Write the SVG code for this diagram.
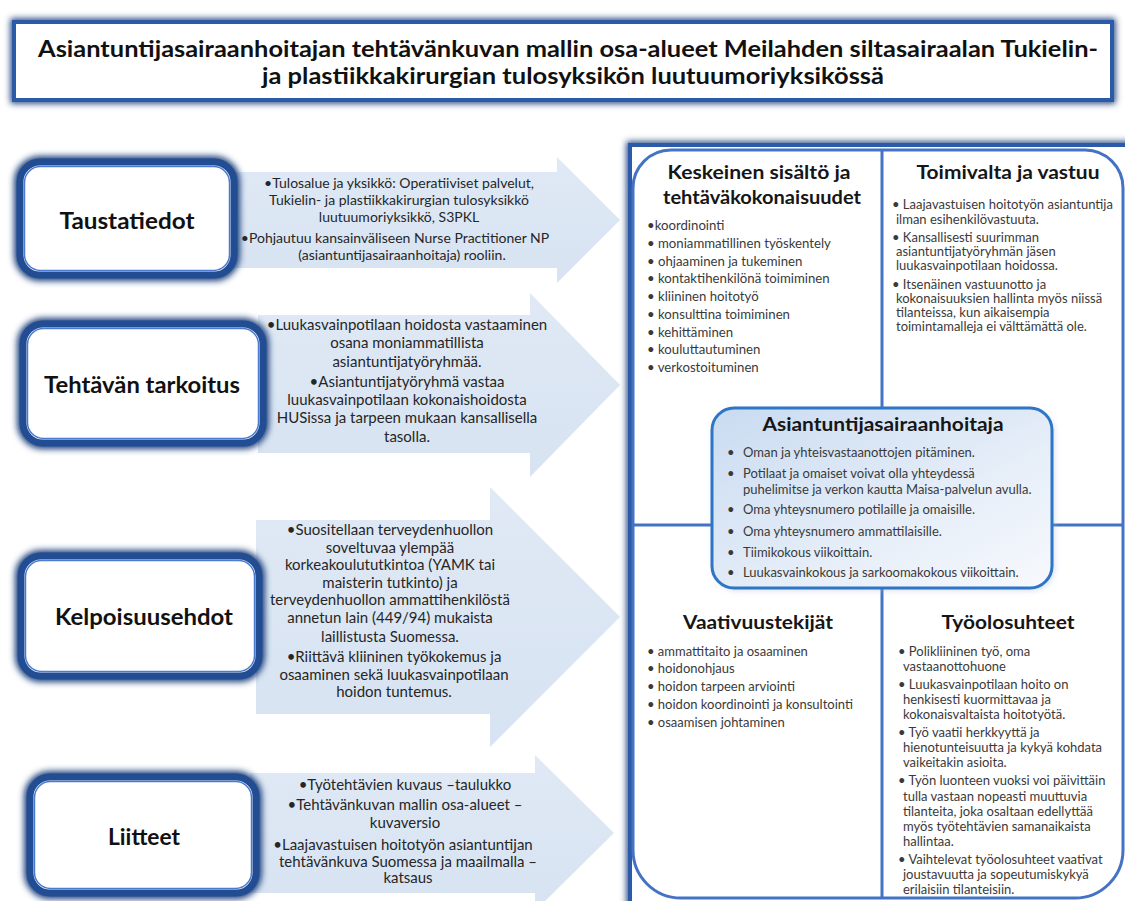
<svg xmlns="http://www.w3.org/2000/svg" width="1125" height="901" viewBox="0 0 1125 901">
<defs>
<style>
text{font-family:Lato,"Liberation Sans",sans-serif;}
.ttl{font-size:22px;font-weight:bold;fill:#111;text-anchor:middle;}
.lbl{font-size:22px;font-weight:bold;fill:#111;text-anchor:middle;}
.arr{font-size:15px;fill:#262626;text-anchor:middle;}
.arr1{font-size:14px;}
.hd{font-size:19px;font-weight:bold;fill:#161616;text-anchor:middle;}
.li{font-size:13.2px;fill:#3a3a3a;}
.ls{font-size:13px;fill:#3a3a3a;}
.glow{fill:none;stroke:#1f3f7a;filter:url(#blur);}
.boxo{fill:#fff;stroke:#234d93;stroke-width:7;}
.boxi{fill:none;stroke:#4a7bd0;stroke-width:1.5;}
.arrow{fill:url(#arrowFill);}
.qline{fill:none;stroke:#4472c4;stroke-width:3;}
</style>
<filter id="blur" x="-20%" y="-20%" width="140%" height="140%"><feGaussianBlur stdDeviation="3"/></filter>
<linearGradient id="arrowFill" x1="0" y1="0" x2="0" y2="1"><stop offset="0" stop-color="#e0e9f5"/><stop offset="1" stop-color="#d7e3f2"/></linearGradient>
<linearGradient id="centerFill" x1="0" y1="0" x2="1" y2="1"><stop offset="0" stop-color="#c9dbf1"/><stop offset="0.6" stop-color="#e6eef8"/><stop offset="1" stop-color="#f7f9fd"/></linearGradient>
</defs>
<rect width="1125" height="901" fill="#fff"/>

<g id="title">
<rect x="14" y="22" width="1098" height="78" class="glow" stroke-width="7"/>
<rect x="14" y="22" width="1098" height="78" fill="#fff" stroke="#2a5aa8" stroke-width="4"/>
<text class="ttl" x="568" y="57" textLength="1060" lengthAdjust="spacingAndGlyphs">Asiantuntijasairaanhoitajan tehtävänkuvan mallin osa-alueet Meilahden siltasairaalan Tukielin-</text>
<text class="ttl" x="573" y="84" textLength="622" lengthAdjust="spacingAndGlyphs">ja plastiikkakirurgian tulosyksikön luutuumoriyksikössä</text>
</g>

<g id="connectors">
<g id="arrow1">
<polygon class="arrow" points="230,172 557,172 557,157 620,220 557,283 557,268 230,268"/>
<text class="arr arr1" x="399" y="188">•Tulosalue ja yksikkö: Operatiiviset palvelut,</text>
<text class="arr arr1" x="399" y="205">Tukielin- ja plastiikkakirurgian tulosyksikkö</text>
<text class="arr arr1" x="399" y="222">luutuumoriyksikkö, S3PKL</text>
<text class="arr arr1" x="395" y="243">•Pohjautuu kansainväliseen Nurse Practitioner NP</text>
<text class="arr arr1" x="402" y="260">(asiantuntijasairaanhoitaja) rooliin.</text>
</g>
<g id="arrow2">
<polygon class="arrow" points="258,315 530,315 530,293 620,385 530,477 530,453 258,453"/>
<text class="arr" x="407" y="330">•Luukasvainpotilaan hoidosta vastaaminen</text>
<text class="arr" x="407" y="348">osana moniammatillista</text>
<text class="arr" x="407" y="367">asiantuntijatyöryhmää.</text>
<text class="arr" x="407" y="387">•Asiantuntijatyöryhmä vastaa</text>
<text class="arr" x="407" y="405">luukasvainpotilaan kokonaishoidosta</text>
<text class="arr" x="407" y="423">HUSissa ja tarpeen  mukaan kansallisella</text>
<text class="arr" x="407" y="442">tasolla.</text>
</g>
<g id="arrow3">
<polygon class="arrow" points="256,520 490,520 490,487 620,617 490,747 490,714 256,714"/>
<text class="arr" x="390" y="535">•Suositellaan terveydenhuollon</text>
<text class="arr" x="390" y="553">soveltuvaa ylempää</text>
<text class="arr" x="390" y="570">korkeakoulututkintoa (YAMK tai</text>
<text class="arr" x="390" y="588">maisterin tutkinto) ja</text>
<text class="arr" x="390" y="605">terveydenhuollon ammattihenkilöstä</text>
<text class="arr" x="390" y="623">annetun lain (449/94) mukaista</text>
<text class="arr" x="390" y="642">laillistusta Suomessa.</text>
<text class="arr" x="394" y="662">•Riittävä kliininen työkokemus ja</text>
<text class="arr" x="394" y="680">osaaminen sekä luukasvainpotilaan</text>
<text class="arr" x="394" y="697">hoidon tuntemus.</text>
</g>
<g id="arrow4">
<polygon class="arrow" points="250,773 535,773 535,755 614,833 535,911 535,893 250,893"/>
<text class="arr" x="405" y="790">•Työtehtävien kuvaus –taulukko</text>
<text class="arr" x="405" y="810">•Tehtävänkuvan mallin osa-alueet –</text>
<text class="arr" x="405" y="828">kuvaversio</text>
<text class="arr" x="403" y="850">•Laajavastuisen hoitotyön asiantuntijan</text>
<text class="arr" x="408" y="867">tehtävänkuva Suomessa ja maailmalla –</text>
<text class="arr" x="408" y="883">katsaus</text>
</g>
</g>

<g id="taustatiedot">
<rect x="20" y="162" width="214" height="113" rx="20" class="glow" stroke-width="12"/>
<rect x="20" y="162" width="214" height="113" rx="20" class="boxo"/>
<rect x="24.5" y="166.5" width="205" height="104" rx="16" class="boxi"/>
<text class="lbl" x="127" y="229" textLength="135" lengthAdjust="spacingAndGlyphs">Taustatiedot</text>
</g>
<g id="tehtavan-tarkoitus">
<rect x="23" y="324" width="240" height="119" rx="20" class="glow" stroke-width="12"/>
<rect x="23" y="324" width="240" height="119" rx="20" class="boxo"/>
<rect x="27.5" y="328.5" width="231" height="110" rx="16" class="boxi"/>
<text class="lbl" x="142" y="393" textLength="196" lengthAdjust="spacingAndGlyphs">Tehtävän tarkoitus</text>
</g>
<g id="kelpoisuusehdot">
<rect x="21" y="556" width="238" height="120" rx="20" class="glow" stroke-width="12"/>
<rect x="21" y="556" width="238" height="120" rx="20" class="boxo"/>
<rect x="25.5" y="560.5" width="229" height="111" rx="16" class="boxi"/>
<text class="lbl" x="144" y="625" textLength="178" lengthAdjust="spacingAndGlyphs">Kelpoisuusehdot</text>
</g>
<g id="liitteet">
<rect x="30" y="777" width="226" height="116" rx="20" class="glow" stroke-width="12"/>
<rect x="30" y="777" width="226" height="116" rx="20" class="boxo"/>
<rect x="34.5" y="781.5" width="217" height="107" rx="16" class="boxi"/>
<text class="lbl" x="144" y="845" textLength="72" lengthAdjust="spacingAndGlyphs">Liitteet</text>
</g>

<g id="panel">
<rect x="630" y="145" width="520" height="790" class="glow" stroke-width="7"/>
<rect x="630" y="145" width="520" height="790" fill="#fff" stroke="#2a5aa8" stroke-width="4"/>
<path class="qline" fill="#fff" d="M671 150 H1085 A38 38 0 0 1 1123 188 V850 A48 48 0 0 1 1075 898 H681 A48 48 0 0 1 633 850 V188 A38 38 0 0 1 671 150 Z"/>
<line class="qline" x1="882" y1="150" x2="882" y2="898"/>
<line class="qline" x1="633" y1="525" x2="1123" y2="525"/>
</g>

<g id="keskeinen-sisalto">
<text class="hd" x="759" y="179" textLength="183" lengthAdjust="spacingAndGlyphs">Keskeinen sisältö ja</text>
<text class="hd" x="762" y="204" textLength="198" lengthAdjust="spacingAndGlyphs">tehtäväkokonaisuudet</text>
<text class="li" x="647" y="230">•koordinointi</text>
<text class="li" x="647" y="248">• moniammatillinen työskentely</text>
<text class="li" x="647" y="266">• ohjaaminen ja tukeminen</text>
<text class="li" x="647" y="283">• kontaktihenkilönä toimiminen</text>
<text class="li" x="647" y="301">• kliininen hoitotyö</text>
<text class="li" x="647" y="319">• konsulttina toimiminen</text>
<text class="li" x="647" y="337">• kehittäminen</text>
<text class="li" x="647" y="354">• kouluttautuminen</text>
<text class="li" x="647" y="372">• verkostoituminen</text>
</g>

<g id="toimivalta-ja-vastuu">
<text class="hd" x="1008" y="179" textLength="183" lengthAdjust="spacingAndGlyphs">Toimivalta ja vastuu</text>
<text class="ls" x="892" y="209">• Laajavastuisen hoitotyön asiantuntija</text>
<text class="ls" x="896" y="224">ilman esihenkilövastuuta.</text>
<text class="ls" x="892" y="242">• Kansallisesti suurimman</text>
<text class="ls" x="896" y="256">asiantuntijatyöryhmän jäsen</text>
<text class="ls" x="896" y="270">luukasvainpotilaan hoidossa.</text>
<text class="ls" x="892" y="289">• Itsenäinen vastuunotto ja</text>
<text class="ls" x="896" y="303">kokonaisuuksien hallinta myös niissä</text>
<text class="ls" x="896" y="317">tilanteissa, kun aikaisempia</text>
<text class="ls" x="896" y="331">toimintamalleja ei välttämättä ole.</text>
</g>

<g id="vaativuustekijat">
<text class="hd" x="758" y="629" textLength="150" lengthAdjust="spacingAndGlyphs">Vaativuustekijät</text>
<text class="ls" x="647" y="656">• ammattitaito ja osaaminen</text>
<text class="ls" x="647" y="673">• hoidonohjaus</text>
<text class="ls" x="647" y="691">• hoidon tarpeen arviointi</text>
<text class="ls" x="647" y="709">• hoidon koordinointi ja konsultointi</text>
<text class="ls" x="647" y="727">• osaamisen johtaminen</text>
</g>

<g id="tyoolosuhteet">
<text class="hd" x="1008" y="629" textLength="133" lengthAdjust="spacingAndGlyphs">Työolosuhteet</text>
<text class="ls" x="898" y="656">• Polikliininen työ, oma</text>
<text class="ls" x="903" y="671">vastaanottohuone</text>
<text class="ls" x="898" y="689">• Luukasvainpotilaan hoito on</text>
<text class="ls" x="903" y="704">henkisesti kuormittavaa ja</text>
<text class="ls" x="903" y="719">kokonaisvaltaista hoitotyötä.</text>
<text class="ls" x="898" y="737">• Työ vaatii herkkyyttä ja</text>
<text class="ls" x="903" y="752">hienotunteisuutta ja kykyä kohdata</text>
<text class="ls" x="903" y="767">vaikeitakin asioita.</text>
<text class="ls" x="898" y="785">• Työn luonteen vuoksi voi päivittäin</text>
<text class="ls" x="903" y="801">tulla vastaan nopeasti muuttuvia</text>
<text class="ls" x="903" y="816">tilanteita, joka osaltaan edellyttää</text>
<text class="ls" x="903" y="831">myös työtehtävien samanaikaista</text>
<text class="ls" x="903" y="846">hallintaa.</text>
<text class="ls" x="898" y="864">• Vaihtelevat työolosuhteet vaativat</text>
<text class="ls" x="903" y="879">joustavuutta ja sopeutumiskykyä</text>
<text class="ls" x="903" y="894">erilaisiin tilanteisiin.</text>
</g>

<g id="asiantuntijasairaanhoitaja">
<rect x="714" y="410" width="340" height="180" rx="22" fill="#9fb6d6" opacity="0.5" filter="url(#blur)"/>
<rect x="712" y="408" width="340" height="180" rx="22" fill="url(#centerFill)" stroke="#2e75c6" stroke-width="3"/>
<text class="hd" x="883" y="431" font-size="18" textLength="241" lengthAdjust="spacingAndGlyphs">Asiantuntijasairaanhoitaja</text>
<text class="ls" x="727" y="457">•</text><text class="ls" x="743" y="457">Oman ja yhteisvastaanottojen pitäminen.</text>
<text class="ls" x="727" y="478">•</text><text class="ls" x="743" y="478">Potilaat ja omaiset voivat olla yhteydessä</text>
<text class="ls" x="743" y="494">puhelimitse ja verkon kautta Maisa-palvelun avulla.</text>
<text class="ls" x="727" y="514">•</text><text class="ls" x="743" y="514">Oma yhteysnumero potilaille ja omaisille.</text>
<text class="ls" x="727" y="536">•</text><text class="ls" x="743" y="536">Oma yhteysnumero ammattilaisille.</text>
<text class="ls" x="727" y="557">•</text><text class="ls" x="743" y="557">Tiimikokous viikoittain.</text>
<text class="ls" x="727" y="577">•</text><text class="ls" x="743" y="577">Luukasvainkokous ja sarkoomakokous viikoittain.</text>
</g>
</svg>
